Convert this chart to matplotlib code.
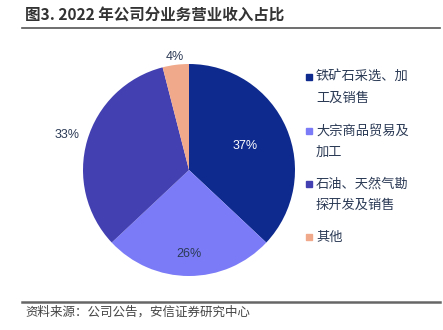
import matplotlib
matplotlib.use("Agg")
import matplotlib.pyplot as plt
import numpy as np

plt.rcParams['font.family'] = ['Noto Sans CJK SC', 'DejaVu Sans']

categories = ["铁矿石采选、加\n工及销售", "大宗商品贸易及\n加工", "石油、天然气勘\n探开发及销售", "其他"]
values = [37, 26, 33, 4]
pct_labels = ["37%", "26%", "33%", "4%"]
colors = ["#0e2a8e", "#7b7bf7", "#4340b2", "#f0a98a"]
label_colors = ["white", "#2b3a55", "#2b3a55", "#2b3a55"]
label_radius = [0.58, 0.79, 1.2, 1.07]

W, H = 443, 330
fig = plt.figure(figsize=(W/100, H/100), dpi=100)

# pie axes: center (189,170), radius ~106 px
cx, cy, r = 189, 170, 106
ax = fig.add_axes([(cx - r)/W, 1 - (cy + r)/H, 2*r/W, 2*r/H])
wedges, _ = ax.pie(values, colors=colors, startangle=90, counterclock=False,
                   radius=1.0, wedgeprops=dict(linewidth=0))
ax.set_xlim(-1, 1); ax.set_ylim(-1, 1)
ax.set_aspect('equal')
ax.axis('off')
for w, lab, lc, lr in zip(wedges, pct_labels, label_colors, label_radius):
    ang = np.deg2rad((w.theta1 + w.theta2) / 2)
    ax.text(lr*np.cos(ang), lr*np.sin(ang), lab, ha='center', va='center',
            fontsize=9, color=lc, family=['Liberation Sans', 'DejaVu Sans'], clip_on=False)

# Title
fig.text(25/W, 1 - 16/H, "图3. 2022 年公司分业务营业收入占比", fontsize=11.2, fontweight='bold',
         color='#333333', ha='left', va='center')
fig.add_artist(plt.Line2D([22/W, 440/W], [1 - 28/H, 1 - 28/H], color='#555555', linewidth=1.2))
fig.add_artist(plt.Line2D([22/W, 440/W], [1 - 302/H, 1 - 302/H], color='#666666', linewidth=1.8))
fig.text(25/W, 1 - 312/H, "资料来源：公司公告，安信证券研究中心", fontsize=9, style='italic',
         color='#444444', ha='left', va='center')

# Legend
leg_y = [77, 131, 184, 237]
for cat, col, y in zip(categories, colors, leg_y):
    fig.patches.append(plt.Rectangle((306/W, 1 - (y + 3)/H), 6/W, 6/H, color=col,
                                     transform=fig.transFigure, figure=fig))
    fig.text(316/W, 1 - (y - 6)/H, cat, fontsize=9.5, color='#2b3a55', ha='left', va='top',
             linespacing=1.75)

fig.savefig("out.png", dpi=100)
